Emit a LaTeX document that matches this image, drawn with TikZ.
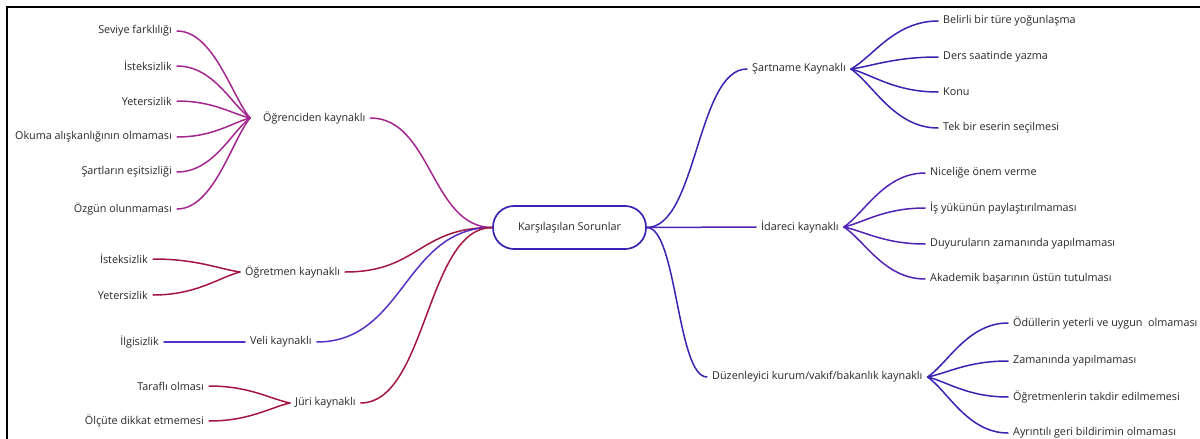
\documentclass[tikz,border=0pt]{standalone}
\usepackage{fontspec}
\setmainfont{Open Sans}
\usetikzlibrary{calc}
\definecolor{cmag}{HTML}{A4268F}
\definecolor{ccrim}{HTML}{A3173F}
\definecolor{cviol}{HTML}{5530C4}
\definecolor{cblue}{HTML}{3A22B2}
\definecolor{cidare}{HTML}{5222B6}
\definecolor{ctxt}{HTML}{262626}
\newcommand\fanedge[3]{\draw[conn,#1] let \p1=(#2), \p2=(#3) in (\p1) .. controls (\x1*0.75+\x2*0.25,\y1*0.75+\y2*0.25) and (\x1*0.5+\x2*0.5,\y2) .. (\p2);}
\newcommand\mainedge[3]{\draw[conn,#1] let \p1=(#2), \p2=(#3) in (\p1) .. controls (\x1*0.5+\x2*0.5,\y1) and (\x1*0.5+\x2*0.5,\y2) .. (\p2);}
\tikzset{
  lbl/.style={font=\fontsize{10.8}{13}\selectfont, text=ctxt, inner xsep=5pt, inner ysep=2pt},
  conn/.style={line width=1.5pt, line cap=round},
  hubbox/.style={draw=cblue, line width=1.7pt, rounded corners=21pt, minimum width=153pt, minimum height=43pt}
}
\begin{document}
\begin{tikzpicture}[x=1pt,y=-1pt]
\useasboundingbox (0,0) rectangle (1200,439);
\draw[line width=2pt,black] (7,439) -- (7,7) -- (1200,7);

% centre
\node[lbl,hubbox] (c) at (569.5,227.5) {Karşılaşılan Sorunlar};

% left branches
\node[lbl,anchor=west] (ogr) at (258,118) {Öğrenciden kaynaklı};
\node[lbl,anchor=west] (ogrt) at (240,272) {Öğretmen kaynaklı};
\node[lbl,anchor=west] (veli) at (245,342) {Veli kaynaklı};
\node[lbl,anchor=west] (juri) at (290,403) {Jüri kaynaklı};

\node[lbl,anchor=east] (seviye) at (177,31) {Seviye farklılığı};
\node[lbl,anchor=east] (istekA) at (177,66) {İsteksizlik};
\node[lbl,anchor=east] (yeterA) at (177,101) {Yetersizlik};
\node[lbl,anchor=east] (okuma) at (177,137) {Okuma alışkanlığının olmaması};
\node[lbl,anchor=east] (sartlar) at (177,172) {Şartların eşitsizliği};
\node[lbl,anchor=east] (ozgun) at (177,209) {Özgün olunmaması};

\node[lbl,anchor=east] (istekB) at (153,259) {İsteksizlik};
\node[lbl,anchor=east] (yeterB) at (153,295) {Yetersizlik};
\node[lbl,anchor=east] (ilgi) at (164,342) {İlgisizlik};
\node[lbl,anchor=east] (tarafli) at (209,386) {Taraflı olması};
\node[lbl,anchor=east] (olcute) at (209,421) {Ölçüte dikkat etmemesi};

% right branches
\node[lbl,anchor=west] (sart) at (747,69) {Şartname Kaynaklı};
\node[lbl,anchor=west] (idare) at (756,227) {İdareci kaynaklı};
\node[lbl,anchor=west] (duzen) at (707,377) {Düzenleyici kurum/vakıf/bakanlık kaynaklı};

\node[lbl,anchor=west] (belirli) at (938,21) {Belirli bir türe yoğunlaşma};
\node[lbl,anchor=west] (ders) at (938,57) {Ders saatinde yazma};
\node[lbl,anchor=west] (konu) at (938,92) {Konu};
\node[lbl,anchor=west] (tek) at (938,128) {Tek bir eserin seçilmesi};

\node[lbl,anchor=west] (nicelik) at (925,173) {Niceliğe önem verme};
\node[lbl,anchor=west] (isyuku) at (925,208) {İş yükünün paylaştırılmaması};
\node[lbl,anchor=west] (duyuru) at (925,244) {Duyuruların zamanında yapılmaması};
\node[lbl,anchor=west] (akademik) at (925,279) {Akademik başarının üstün tutulması};

\node[lbl,anchor=west] (odul) at (1008,323) {Ödüllerin yeterli ve uygun~~olmaması};
\node[lbl,anchor=west] (zaman) at (1008,361) {Zamanında yapılmaması};
\node[lbl,anchor=west] (takdir) at (1008,397) {Öğretmenlerin takdir edilmemesi};
\node[lbl,anchor=west] (ayrinti) at (1008,433) {Ayrıntılı geri bildirimin olmaması};

% main connectors
\mainedge{cmag}{c.west}{ogr.east}
\mainedge{ccrim}{c.west}{ogrt.east}
\mainedge{cviol}{c.west}{veli.east}
\mainedge{ccrim}{c.west}{juri.east}
\mainedge{cblue}{c.east}{sart.west}
\mainedge{cidare}{c.east}{idare.west}
\mainedge{cblue}{c.east}{duzen.west}

% fans left
\fanedge{cmag}{[xshift=-8pt]ogr.west}{seviye.east}
\fanedge{cmag}{[xshift=-8pt]ogr.west}{istekA.east}
\fanedge{cmag}{[xshift=-8pt]ogr.west}{yeterA.east}
\fanedge{cmag}{[xshift=-8pt]ogr.west}{okuma.east}
\fanedge{cmag}{[xshift=-8pt]ogr.west}{sartlar.east}
\fanedge{cmag}{[xshift=-8pt]ogr.west}{ozgun.east}
\fanedge{ccrim}{ogrt.west}{istekB.east}
\fanedge{ccrim}{ogrt.west}{yeterB.east}
\fanedge{cviol}{veli.west}{ilgi.east}
\fanedge{ccrim}{juri.west}{tarafli.east}
\fanedge{ccrim}{juri.west}{olcute.east}

% fans right
\fanedge{cblue}{sart.east}{belirli.west}
\fanedge{cblue}{sart.east}{ders.west}
\fanedge{cblue}{sart.east}{konu.west}
\fanedge{cblue}{sart.east}{tek.west}
\fanedge{cidare}{idare.east}{nicelik.west}
\fanedge{cidare}{idare.east}{isyuku.west}
\fanedge{cidare}{idare.east}{duyuru.west}
\fanedge{cidare}{idare.east}{akademik.west}
\fanedge{cblue}{duzen.east}{odul.west}
\fanedge{cblue}{duzen.east}{zaman.west}
\fanedge{cblue}{duzen.east}{takdir.west}
\fanedge{cblue}{duzen.east}{ayrinti.west}
\end{tikzpicture}
\end{document}
